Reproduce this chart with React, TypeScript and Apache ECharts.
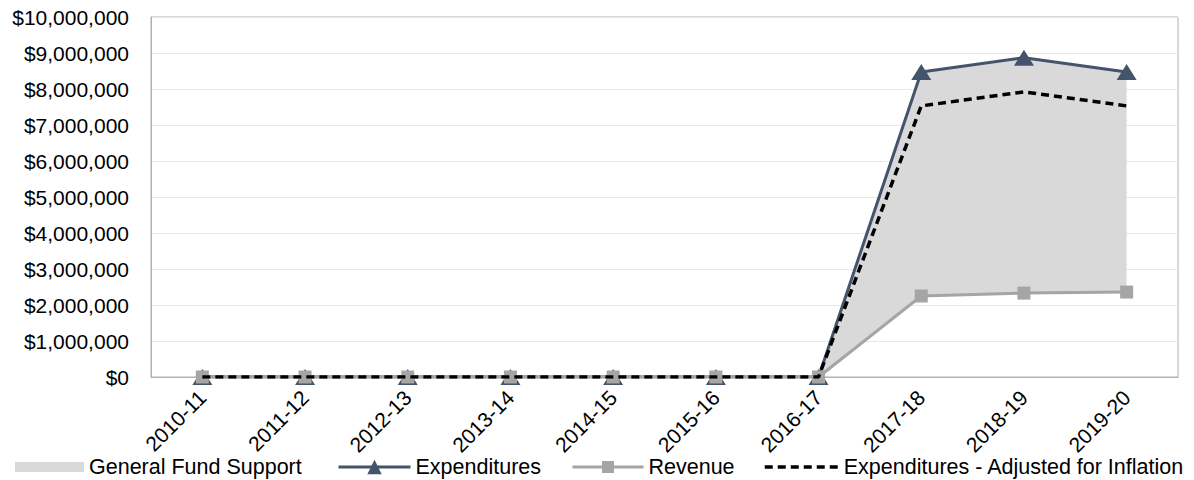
import React, { useEffect, useRef } from "react";
import * as echarts from "echarts";

const categories = ["2010-11", "2011-12", "2012-13", "2013-14", "2014-15", "2015-16", "2016-17", "2017-18", "2018-19", "2019-20"];
const expenditures = [0, 0, 0, 0, 0, 0, 0, 8470000, 8870000, 8470000];
const revenue = [0, 0, 0, 0, 0, 0, 0, 2250000, 2330000, 2360000];
const inflationAdjusted = [0, 0, 0, 0, 0, 0, 0, 7530000, 7920000, 7530000];
const yTicks = { min: 0, max: 10000000, interval: 1000000 };

const FONT = "'Liberation Sans', Arial, sans-serif";

export default function App() {
  const ref = useRef<HTMLDivElement>(null);
  useEffect(() => {
    if (!ref.current) return;
    const chart = echarts.init(ref.current, null, { renderer: "svg" });
    const gfs = expenditures.map((v, i) => v - revenue[i]);
    const legendText = { fontSize: 21.5, color: "#000", fontFamily: FONT };
    const lg = { top: 456, padding: 0, itemGap: 0, textStyle: legendText };
    chart.setOption({
      animation: false,
      textStyle: { fontFamily: FONT },
      grid: { left: 151, right: 16, top: 17, bottom: 103, show: true, borderColor: "#b0b0b0", borderWidth: 1 },
      legend: [
        { ...lg, data: [{ name: "General Fund Support", icon: "rect" }], left: 15, itemWidth: 69, itemHeight: 10 },
        { ...lg, data: ["Expenditures"], left: 337, itemWidth: 72, itemHeight: 18, lineStyle: { width: 3 } },
        { ...lg, data: ["Revenue"], left: 571, itemWidth: 71, itemHeight: 15, lineStyle: { width: 3 } },
        { ...lg, data: ["Expenditures - Adjusted for Inflation"], left: 763, itemWidth: 74, itemHeight: 14, itemStyle: { opacity: 0 }, lineStyle: { width: 3.5, type: [8, 5] } },
      ],
      xAxis: {
        type: "category",
        data: categories,
        boundaryGap: true,
        axisLine: { lineStyle: { color: "#b0b0b0", width: 1 } },
        axisTick: { show: false },
        axisLabel: { rotate: 45, fontSize: 21, color: "#000", margin: 17, fontFamily: FONT },
        splitLine: { show: false },
      },
      yAxis: {
        type: "value",
        min: yTicks.min,
        max: yTicks.max,
        interval: yTicks.interval,
        axisLine: { show: true, lineStyle: { color: "#b0b0b0", width: 1 } },
        axisTick: { show: false },
        axisLabel: {
          fontSize: 21,
          color: "#000",
          margin: 22,
          fontFamily: FONT,
          formatter: (v: number) => "$" + v.toLocaleString("en-US"),
        },
        splitLine: { lineStyle: { color: "#e8e8e8", width: 1 } },
      },
      series: [
        {
          name: "base",
          type: "line",
          stack: "gf",
          data: revenue,
          symbol: "none",
          lineStyle: { opacity: 0 },
          silent: true,
        },
        {
          name: "General Fund Support",
          type: "line",
          stack: "gf",
          data: gfs,
          symbol: "none",
          lineStyle: { opacity: 0 },
          itemStyle: { color: "#d9d9d9" },
          areaStyle: { color: "#d9d9d9", opacity: 1 },
        },
        {
          name: "Expenditures",
          type: "line",
          data: expenditures,
          symbol: "triangle",
          symbolSize: [20, 16],
          itemStyle: { color: "#44546a" },
          lineStyle: { color: "#44546a", width: 3 },
          z: 3,
        },
        {
          name: "Revenue",
          type: "line",
          data: revenue,
          symbol: "rect",
          symbolSize: 13,
          itemStyle: { color: "#a5a5a5" },
          lineStyle: { color: "#a5a5a5", width: 3 },
          z: 4,
        },
        {
          name: "Expenditures - Adjusted for Inflation",
          type: "line",
          data: inflationAdjusted,
          symbol: "none",
          itemStyle: { color: "#000" },
          lineStyle: { color: "#000", width: 3.5, type: [8, 5] },
          z: 5,
        },
      ],
    });
    return () => chart.dispose();
  }, []);
  return <div ref={ref} style={{ width: 1194, height: 480, position: "absolute", left: 0, top: 0 }} />;
}
